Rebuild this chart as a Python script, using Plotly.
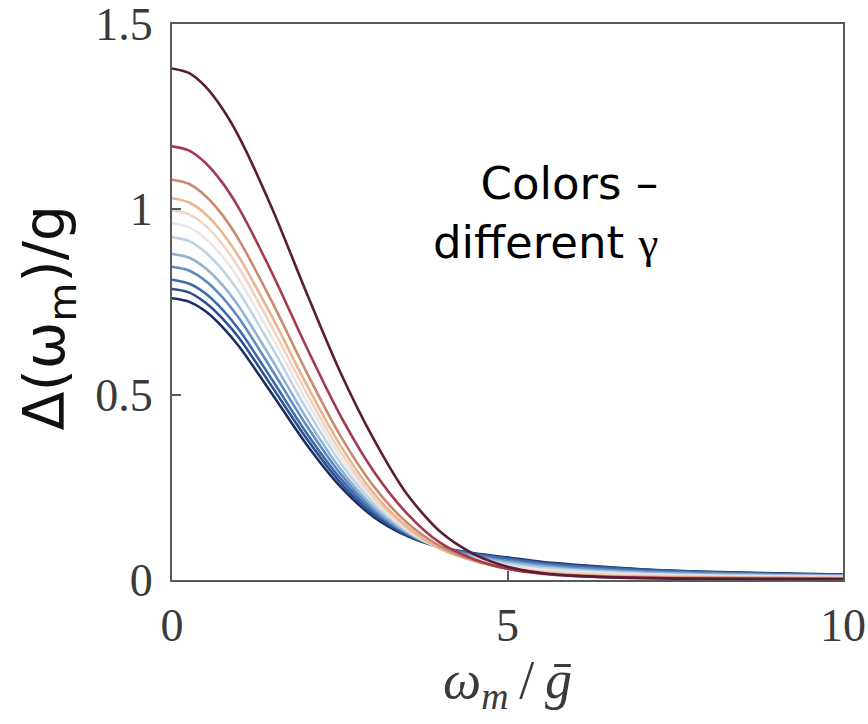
import plotly.graph_objects as go

# frequency grid (omega_m / g-bar)
omega = [0, 0.25, 0.5, 0.75, 1, 1.5, 2, 2.5, 3, 3.5, 4, 4.5, 5, 5.5, 6, 7, 8, 9, 10]

# gap function Delta(omega_m)/g, one list per gamma (low -> high)
gap_g1 = [0.760, 0.751, 0.725, 0.683, 0.630, 0.500, 0.367, 0.254, 0.171, 0.119, 0.088, 0.072, 0.061, 0.049, 0.041, 0.029, 0.022, 0.018, 0.015]
gap_g2 = [0.785, 0.776, 0.748, 0.706, 0.653, 0.519, 0.383, 0.265, 0.177, 0.122, 0.088, 0.071, 0.058, 0.047, 0.039, 0.028, 0.021, 0.017, 0.014]
gap_g3 = [0.810, 0.800, 0.773, 0.730, 0.675, 0.538, 0.398, 0.276, 0.184, 0.125, 0.089, 0.070, 0.057, 0.045, 0.037, 0.026, 0.020, 0.016, 0.013]
gap_g4 = [0.845, 0.835, 0.807, 0.763, 0.706, 0.564, 0.418, 0.289, 0.191, 0.127, 0.087, 0.066, 0.052, 0.041, 0.033, 0.023, 0.018, 0.014, 0.012]
gap_g5 = [0.880, 0.870, 0.841, 0.796, 0.737, 0.591, 0.438, 0.302, 0.198, 0.129, 0.086, 0.063, 0.048, 0.037, 0.029, 0.020, 0.015, 0.013, 0.011]
gap_g6 = [0.925, 0.915, 0.884, 0.837, 0.776, 0.624, 0.463, 0.319, 0.208, 0.133, 0.085, 0.059, 0.043, 0.032, 0.026, 0.017, 0.013, 0.011, 0.009]
gap_g7 = [0.963, 0.952, 0.921, 0.873, 0.810, 0.652, 0.485, 0.334, 0.217, 0.136, 0.085, 0.056, 0.039, 0.028, 0.022, 0.015, 0.011, 0.009, 0.008]
gap_g8 = [0.998, 0.987, 0.956, 0.906, 0.841, 0.679, 0.506, 0.349, 0.225, 0.139, 0.084, 0.053, 0.035, 0.024, 0.018, 0.012, 0.009, 0.007, 0.006]
gap_g9 = [1.030, 1.019, 0.987, 0.937, 0.871, 0.707, 0.529, 0.366, 0.236, 0.144, 0.085, 0.051, 0.031, 0.020, 0.014, 0.009, 0.007, 0.005, 0.005]
gap_g10 = [1.080, 1.069, 1.036, 0.985, 0.917, 0.747, 0.563, 0.392, 0.254, 0.155, 0.091, 0.053, 0.031, 0.019, 0.013, 0.007, 0.006, 0.005, 0.004]
gap_g11 = [1.170, 1.159, 1.125, 1.072, 1.002, 0.825, 0.630, 0.447, 0.295, 0.180, 0.100, 0.056, 0.030, 0.017, 0.011, 0.006, 0.004, 0.004, 0.003]
gap_g12 = [1.380, 1.368, 1.331, 1.272, 1.195, 0.999, 0.777, 0.564, 0.382, 0.232, 0.130, 0.070, 0.036, 0.019, 0.011, 0.005, 0.003, 0.002, 0.002]

gap_curves = [gap_g1, gap_g2, gap_g3, gap_g4, gap_g5, gap_g6,
              gap_g7, gap_g8, gap_g9, gap_g10, gap_g11, gap_g12]

# diverging palette: blue (small gamma) -> red (large gamma)
line_colors = ["#1b2f66", "#2c4f8f", "#3f6aa8", "#5f8cc0", "#8fb3d6", "#bcd3e6",
               "#e8e6e6", "#f2d3c0", "#e9b591", "#c98a70", "#a33a4f", "#5a1c36"]

x_ticks = [0, 5, 10]
y_ticks = [0, 0.5, 1, 1.5]
y_tick_text = ["0", "0.5", "1", "1.5"]

fig = go.Figure()
for vals, col in zip(gap_curves, line_colors):
    fig.add_trace(go.Scatter(
        x=omega, y=vals, mode="lines",
        line=dict(color=col, width=2.6, shape="spline", smoothing=0.8),
        showlegend=False, hoverinfo="skip"))

serif = "Liberation Serif, Times New Roman, serif"
sans = "DejaVu Sans, Verdana, sans-serif"
axis_gray = "#5a5a5a"
label_gray = "#3a3a3a"

fig.update_layout(
    width=868, height=724,
    margin=dict(l=172, r=25, t=24, b=144),
    plot_bgcolor="white", paper_bgcolor="white",
    xaxis=dict(
        range=[0, 10], tickvals=x_ticks, ticktext=[str(t) for t in x_ticks],
        showgrid=False, zeroline=False, automargin=False,
        showline=True, linecolor=axis_gray, linewidth=2, mirror=True,
        ticks="inside", ticklen=9, tickwidth=1.5, tickcolor=axis_gray,
        tickfont=dict(family=serif, size=46, color=label_gray),
        ticklabelstandoff=4, ticklabeloverflow="allow",
    ),
    yaxis=dict(
        range=[0, 1.5], tickvals=y_ticks, ticktext=y_tick_text,
        showgrid=False, zeroline=False, automargin=False,
        showline=True, linecolor=axis_gray, linewidth=2, mirror=True,
        ticks="inside", ticklen=9, tickwidth=1.5, tickcolor=axis_gray,
        tickfont=dict(family=serif, size=46, color=label_gray),
        ticklabelstandoff=8, ticklabeloverflow="allow",
    ),
)

# axis titles
fig.add_annotation(
    xref="x", yref="paper", x=5, y=-0.186, xanchor="center", yanchor="middle",
    text="<i>ω<sub>m</sub></i>\u2009/\u2009<i>ḡ</i>", showarrow=False,
    font=dict(family=serif, size=54, color=label_gray),
)
fig.add_annotation(
    xref="paper", yref="paper", x=-0.185, y=0.472, xanchor="center", yanchor="middle",
    text="Δ(ω<sub>m</sub>)/g", textangle=-90, showarrow=False,
    font=dict(family=sans, size=57, color="#111111"),
)

# in-plot note about the colour coding
fig.add_annotation(
    xref="x", yref="y", x=7.28, y=0.99, xanchor="right", yanchor="middle",
    text="Colors –<br>different <span style='font-family:Liberation Serif'>γ</span>",
    showarrow=False, align="right",
    font=dict(family=sans, size=45, color="#000000"),
)

fig.write_html("out.html")
